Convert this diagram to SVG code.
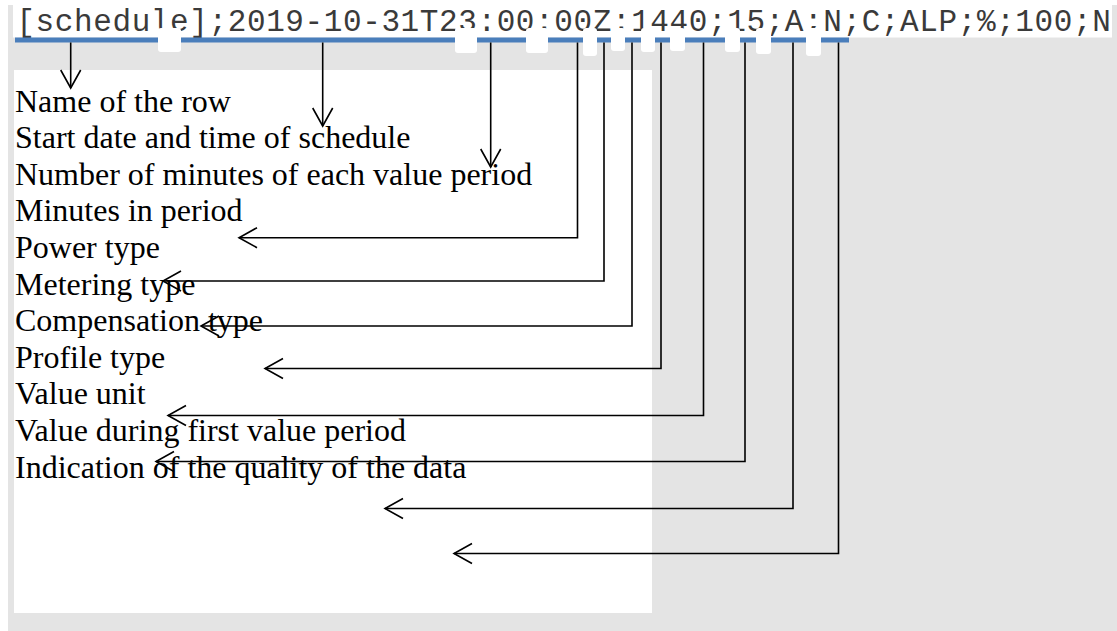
<svg xmlns="http://www.w3.org/2000/svg" width="1117" height="631" viewBox="0 0 1117 631">
  <style>
    .code { font-family: "Liberation Mono", "Courier New", monospace; font-size: 31px; fill: #3a3a3a; }
    .lbl { font-family: "Liberation Serif", "Times New Roman", serif; font-size: 32px; fill: #000; }
    .tab { fill: #ffffff; }
    .conn { fill: none; stroke: #000; stroke-width: 1.6; marker-end: url(#arr); }
  </style>
  <defs>
    <marker id="arr" markerUnits="userSpaceOnUse" viewBox="-20 -12 22 24" markerWidth="22" markerHeight="24" refX="0" refY="0" orient="auto" overflow="visible">
      <path d="M-18,-10 L0,0 L-18,10" fill="none" stroke="#000" stroke-width="1.6"/>
    </marker>
  </defs>
  <rect x="0" y="0" width="1117" height="631" fill="#ffffff"/>
  <rect id="background" x="8" y="5" width="1109" height="626" fill="#e4e4e4"/>
  <rect id="code-band" x="13" y="0" width="1099" height="37.5" fill="#ffffff"/>
  <rect id="label-box" x="14" y="70" width="638" height="543" fill="#ffffff"/>

  <g id="record">
    <text class="code" x="16.4" y="31" textLength="1094.4" lengthAdjust="spacing">[schedule];2019-10-31T23:00:00Z:1440;15;A;N;C;ALP;%;100;N</text>
    <rect x="15" y="37.5" width="834" height="5" fill="#4a7ebb"/>
    <rect class="tab" x="158" y="28" width="23" height="24" rx="3"/>
    <rect class="tab" x="455" y="28" width="22" height="25" rx="3"/>
    <rect class="tab" x="526" y="28" width="22" height="25" rx="3"/>
    <rect class="tab" x="583" y="28" width="14" height="28" rx="3"/>
    <rect class="tab" x="611" y="28" width="14" height="23" rx="3"/>
    <rect class="tab" x="641" y="28" width="14" height="24" rx="3"/>
    <rect class="tab" x="670" y="28" width="15" height="23" rx="3"/>
    <rect class="tab" x="725" y="28" width="15" height="24" rx="3"/>
    <rect class="tab" x="756" y="28" width="15" height="26" rx="3"/>
    <rect class="tab" x="806" y="28" width="15" height="28" rx="3"/>
  </g>

  <g id="labels">
    <text id="l1" class="lbl" x="15" y="111.5">Name of the row</text>
    <text id="l2" class="lbl" x="15" y="148">Start date and time of schedule</text>
    <text id="l3" class="lbl" x="15" y="184.7">Number of minutes of each value period</text>
    <text id="l4" class="lbl" x="15" y="221.3">Minutes in period</text>
    <text id="l5" class="lbl" x="15" y="258">Power type</text>
    <text id="l6" class="lbl" x="15" y="294.5">Metering type</text>
    <text id="l7" class="lbl" x="15" y="331">Compensation type</text>
    <text id="l8" class="lbl" x="15" y="367.7">Profile type</text>
    <text id="l9" class="lbl" x="15" y="404.3">Value unit</text>
    <text id="l10" class="lbl" x="15" y="441">Value during first value period</text>
    <text id="l11" class="lbl" x="15" y="477.6">Indication of the quality of the data</text>
  </g>

  <g id="connectors">
    <path class="conn" d="M70.7,42.5 V88"/>
    <path class="conn" d="M322.7,42.5 V126"/>
    <path class="conn" d="M490.7,42.5 V167"/>
    <path class="conn" d="M577.5,42.5 V237.7 H239"/>
    <path class="conn" d="M604,42.5 V281 H163"/>
    <path class="conn" d="M632,42.5 V326 H201"/>
    <path class="conn" d="M661,42.5 V368.5 H265"/>
    <path class="conn" d="M703.5,42.5 V415.5 H168"/>
    <path class="conn" d="M745,42.5 V461.5 H156"/>
    <path class="conn" d="M793,42.5 V508.5 H385"/>
    <path class="conn" d="M838.5,42.5 V553.5 H454"/>
  </g>
</svg>
